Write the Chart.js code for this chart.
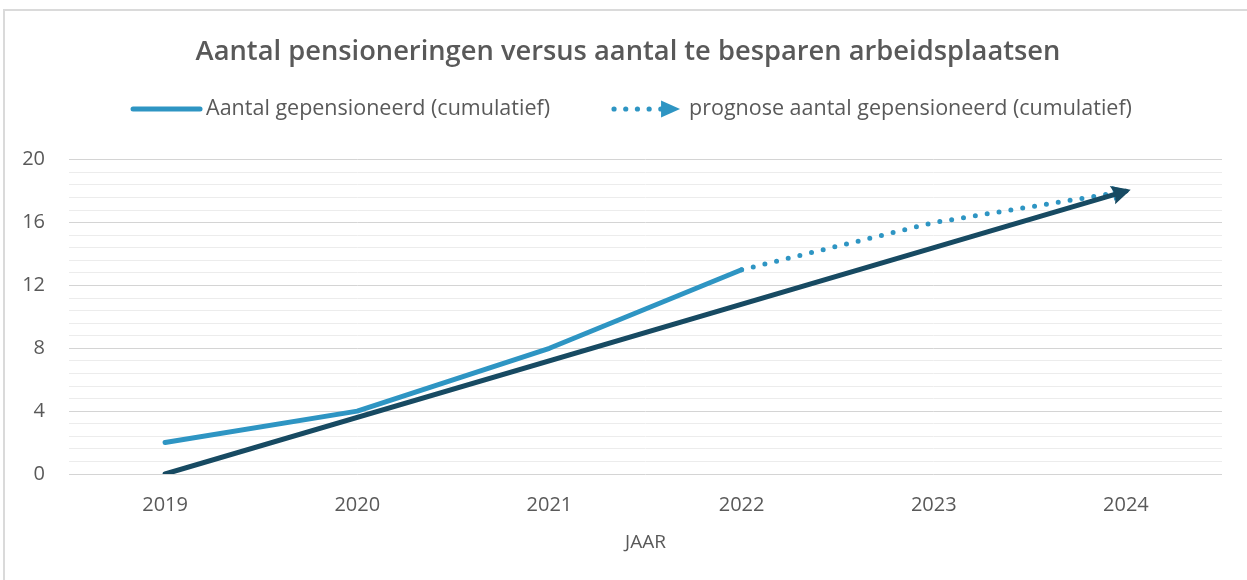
<!DOCTYPE html>
<html>
<head>
<meta charset="utf-8">
<title>Aantal pensioneringen versus aantal te besparen arbeidsplaatsen</title>
<script src="https://cdn.jsdelivr.net/npm/chart.js@4.4.1/dist/chart.umd.min.js"></script>
<style>
  html, body { margin: 0; padding: 0; background: #fff; overflow: hidden; }
  .frame { position: absolute; left: 3px; top: 9px; width: 1300px; height: 700px;
           border-left: 2px solid #dadada; border-top: 2px solid #dadada; }
  .wrap { position: absolute; left: 0; top: 0; width: 1247px; height: 580px; }
</style>
</head>
<body>
<div class="frame"></div>
<div class="wrap"><canvas id="mycanvas"></canvas></div>
<script>
// data
var years = ['2019', '2020', '2021', '2022', '2023', '2024'];
var gepensioneerd = [2, 4, 8, 13, null, null];
var prognose = [null, null, null, 13, 16, 18];
var arbeidsplaatsen = [0, null, null, null, null, 18];

var yMin = 0;
var yMax = 20;
var yLabelStep = 4;
var yGridStep = 0.8;

var blue = '#2e95c3';
var dark = '#174a62';
var grey = '#595959';
var font = '"Open Sans", "Noto Sans", sans-serif';

function isMajor(v) {
	return Math.abs(v / yLabelStep - Math.round(v / yLabelStep)) < 1e-6;
}

// title sits a bit right of the canvas centre in the original
var titleShift = {
	id: 'titleShift',
	afterLayout: function(chart) {
		if (chart.titleBlock) {
			chart.titleBlock.left += 17;
			chart.titleBlock.right += 17;
		}
	}
};

// arrow head at the last point of a dataset
var arrowHeads = {
	id: 'arrowHeads',
	afterDatasetDraw: function(chart, args) {
		var ds = chart.data.datasets[args.index];
		if (!ds.arrow) return;
		var pts = [];
		for (var i in ds.data) {
			if (ds.data[i] !== null) pts.push(args.meta.data[i]);
		}
		var a = pts[pts.length - 2], b = pts[pts.length - 1];
		var ang = Math.atan2(b.y - a.y, b.x - a.x);
		var ar = ds.arrow;
		var ctx = chart.ctx;
		ctx.save();
		ctx.translate(b.x + Math.cos(ang) * ar.extend, b.y + Math.sin(ang) * ar.extend);
		ctx.rotate(ang);
		ctx.beginPath();
		ctx.moveTo(0, 0);
		ctx.lineTo(-ar.length, -ar.width / 2);
		ctx.lineTo(-ar.length + ar.notch, 0);
		ctx.lineTo(-ar.length, ar.width / 2);
		ctx.closePath();
		ctx.fillStyle = ds.borderColor;
		ctx.fill();
		ctx.restore();
	}
};

// legend with a solid line and a dotted arrow
var lineLegend = {
	id: 'lineLegend',
	afterDraw: function(chart) {
		var ctx = chart.ctx;
		var y = 109;
		ctx.save();
		ctx.font = '21.5px ' + font;
		ctx.textBaseline = 'middle';
		ctx.fillStyle = grey;
		var t1 = 'Aantal gepensioneerd (cumulatief)';
		var t2 = 'prognose aantal gepensioneerd (cumulatief)';
		var w1 = ctx.measureText(t1).width;
		var w2 = ctx.measureText(t2).width;
		var total = 71 + 5 + w1 + 61 + 69 + 9 + w2;
		var x = 632 - total / 2;

		ctx.strokeStyle = blue;
		ctx.lineWidth = 5;
		ctx.lineCap = 'round';
		ctx.beginPath();
		ctx.moveTo(x + 2, y);
		ctx.lineTo(x + 69, y);
		ctx.stroke();
		x += 75;
		ctx.fillText(t1, x, y);
		x += w1 + 61;

		ctx.fillStyle = blue;
		for (var i = 0; i < 5; i++) {
			ctx.beginPath();
			ctx.arc(x + 3 + i * 11.7, y, 2.6, 0, Math.PI * 2);
			ctx.fill();
		}
		ctx.beginPath();
		ctx.moveTo(x + 50, y - 8.5);
		ctx.lineTo(x + 69, y);
		ctx.lineTo(x + 50, y + 8.5);
		ctx.closePath();
		ctx.fill();
		x += 78;
		ctx.fillStyle = grey;
		ctx.fillText(t2, x, y);
		ctx.restore();
	}
};

var chartdata = {
	labels: years,
	datasets: [
		{
			label: 'aantal te besparen arbeidsplaatsen',
			data: arbeidsplaatsen,
			borderColor: dark,
			backgroundColor: dark,
			borderWidth: 5,
			borderCapStyle: 'round',
			spanGaps: true,
			pointRadius: 0,
			arrow: { length: 19, width: 19, notch: 3, extend: 5 }
		},
		{
			label: 'prognose aantal gepensioneerd (cumulatief)',
			data: prognose,
			borderColor: blue,
			backgroundColor: blue,
			borderWidth: 5,
			borderCapStyle: 'round',
			borderJoinStyle: 'round',
			borderDash: [0, 12],
			pointRadius: 0,
			arrow: { length: 16, width: 15, notch: 0, extend: 3 }
		},
		{
			label: 'Aantal gepensioneerd (cumulatief)',
			data: gepensioneerd,
			borderColor: blue,
			backgroundColor: blue,
			borderWidth: 5,
			borderCapStyle: 'round',
			borderJoinStyle: 'round',
			pointRadius: 0
		}
	]
};

var ctx = document.getElementById('mycanvas');

var lineGraph = new Chart(ctx, {
	type: 'line',
	data: chartdata,
	plugins: [titleShift, arrowHeads, lineLegend],
	options: {
		responsive: true,
		maintainAspectRatio: false,
		animation: false,
		layout: { padding: { left: 0, right: 25, top: 0, bottom: 22 } },
		plugins: {
			legend: { display: false },
			tooltip: { enabled: false },
			title: {
				display: true,
				text: 'Aantal pensioneringen versus aantal te besparen arbeidsplaatsen',
				color: grey,
				font: { family: font, size: 27.3, weight: '600' },
				padding: { top: 36, bottom: 91 }
			}
		},
		scales: {
			x: {
				offset: true,
				afterFit: function(scale) { scale.height = 84; },
				grid: { display: false, drawTicks: false },
				border: { display: false },
				ticks: { color: grey, font: { family: font, size: 20 }, padding: 19 },
				title: {
					display: true,
					text: 'JAAR',
					color: grey,
					font: { family: font, size: 19 },
					padding: { top: 4, bottom: 4 }
				}
			},
			y: {
				min: yMin,
				max: yMax,
				border: { display: false },
				afterFit: function(scale) { scale.width = 69; },
				grid: {
					drawTicks: false,
					color: function(c) { return isMajor(c.tick.value) ? '#d4d4d4' : '#ececec'; },
					lineWidth: 1
				},
				ticks: {
					stepSize: yGridStep,
					autoSkip: false,
					padding: 24,
					color: grey,
					font: { family: font, size: 20 },
					callback: function(v) { return isMajor(v) ? Math.round(v) : ''; }
				}
			}
		}
	}
});
</script>
</body>
</html>
